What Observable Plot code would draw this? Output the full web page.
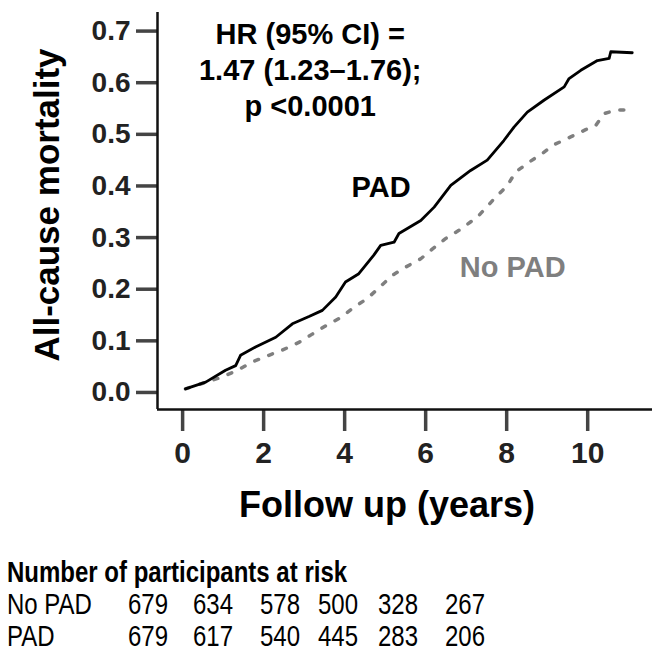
<!DOCTYPE html>
<html><head><meta charset="utf-8">
<script src="https://cdn.jsdelivr.net/npm/d3@7"></script>
<script src="https://cdn.jsdelivr.net/npm/@observablehq/plot@0.6"></script>
<style>
body{margin:0;background:#fff;font-family:"Liberation Sans",Arial,sans-serif;color:#000;}
#risk{padding:16px 0 0 7px;width:656px;}
#risk .row{height:32px;line-height:32px;font-size:24px;white-space:nowrap;transform:scaleY(1.2);display:grid;grid-template-columns:121px 65px 67px 58px 60px 67px 60px;}
#risk .title{font-weight:bold;display:block;}
</style></head><body>
<div id="chart"></div>
<div id="risk"></div>
<script>
// ---- data ----
const padTime = [0.07,0.57,1.06,1.31,1.43,1.80,2.30,2.71,3.12,3.45,3.78,4.02,4.35,4.72,4.89,5.22,5.34,5.88,6.21,6.62,7.11,7.52,7.93,8.18,8.51,8.92,9.42,9.54,9.83,10.24,10.53,10.57,11.10];
const padMort = [0.007,0.020,0.043,0.052,0.072,0.088,0.107,0.133,0.147,0.159,0.185,0.214,0.230,0.266,0.285,0.291,0.308,0.333,0.359,0.401,0.430,0.450,0.488,0.514,0.543,0.566,0.592,0.608,0.624,0.643,0.647,0.660,0.658];
const noPadTime = [0.07,0.98,1.35,1.72,2.13,2.46,2.87,3.20,3.53,3.90,4.23,4.56,5.18,5.51,5.88,6.17,6.49,6.82,7.28,7.69,8.02,8.22,8.55,8.88,9.17,9.58,9.95,10.20,10.40,10.69,11.10];
const noPadMort = [0.007,0.030,0.043,0.059,0.072,0.082,0.097,0.113,0.129,0.145,0.165,0.182,0.227,0.243,0.259,0.278,0.298,0.314,0.340,0.375,0.401,0.427,0.446,0.463,0.480,0.495,0.509,0.517,0.540,0.547,0.547];
const xTicks = [0,2,4,6,8,10];
const yTicks = [0,0.1,0.2,0.3,0.4,0.5,0.6,0.7];
const xDomain = [-0.62, 11.6];
const yDomain = [-0.033, 0.736];
const xTitle = "Follow up (years)";
const yTitle = "All-cause mortality";
const hrText = ["HR (95% CI) =", "1.47 (1.23–1.76);", "p <0.0001"];
const hrPos = [3.15, 0.628];
const seriesLabels = ["PAD", "No PAD"];
const seriesLabelX = [4.9, 8.15];
const seriesLabelY = [0.397, 0.242];
const seriesColors = ["#000000", "#7f7f7f"];
const riskTitle = "Number of participants at risk";
const riskGroups = ["No PAD", "PAD"];
const riskNoPad = [679,634,578,500,328,267];
const riskPad = [679,617,540,445,283,206];

// ---- tables ----
const pad = padTime.map((t,i)=>({t, m: padMort[i]}));
const noPad = noPadTime.map((t,i)=>({t, m: noPadMort[i]}));
const labels = seriesLabels.map((s,i)=>({s, x: seriesLabelX[i], y: seriesLabelY[i], c: seriesColors[i]}));

const chart = Plot.plot({
  width: 663, height: 540,
  marginLeft: 157, marginRight: 11, marginTop: 12, marginBottom: 131,
  style: {fontFamily: "'Liberation Sans', Arial, sans-serif", background: "#fff", overflow: "visible"},
  x: {domain: xDomain},
  y: {domain: yDomain},
  marks: [
    Plot.axisY(yTicks, {tickSize: 21, tickPadding: 6, fontSize: 28, fontWeight: "bold", stroke: "#444", strokeWidth: 3.5, fill: "#222", tickFormat: d => d.toFixed(1), label: null}),
    Plot.axisX(xTicks, {tickSize: 22, tickPadding: 10, fontSize: 30, fontWeight: "bold", stroke: "#444", strokeWidth: 3.5, fill: "#222", label: null}),
    Plot.ruleX([xDomain[0]], {stroke: "#111", strokeWidth: 2.5}),
    Plot.ruleY([yDomain[0]], {stroke: "#111", strokeWidth: 2.5}),
    Plot.line(noPad, {x: "t", y: "m", curve: "linear", stroke: seriesColors[1], strokeWidth: 3.5, strokeDasharray: "4 11"}),
    Plot.line(pad, {x: "t", y: "m", curve: "linear", stroke: seriesColors[0], strokeWidth: 2.8}),
    Plot.text([hrText.join("\n")], {x: () => hrPos[0], y: () => hrPos[1], fontSize: 29, fontWeight: "bold", lineHeight: 1.25, lineAnchor: "middle", fill: "#000"}),
    Plot.text(labels, {x: "x", y: "y", text: "s", fill: "c", fontSize: 29, fontWeight: "bold"}),
    Plot.text([yTitle], {frameAnchor: "left", textAnchor: "middle", lineAnchor: "middle", rotate: -90, dx: -110, dy: -6, fontSize: 35, fontWeight: "bold", fill: "#000"}),
    Plot.text([xTitle], {frameAnchor: "bottom", textAnchor: "middle", lineAnchor: "middle", dx: -18, dy: 96, fontSize: 36, fontWeight: "bold", fill: "#000"})
  ]
});
document.getElementById("chart").appendChild(chart);

// ---- risk table ----
const risk = document.getElementById("risk");
const t = document.createElement("div");
t.className = "row title"; t.textContent = riskTitle; risk.appendChild(t);
[riskNoPad, riskPad].forEach((vals, i) => {
  const r = document.createElement("div"); r.className = "row";
  const l = document.createElement("span"); l.textContent = riskGroups[i]; r.appendChild(l);
  vals.forEach(v => { const s = document.createElement("span"); s.textContent = v; r.appendChild(s); });
  risk.appendChild(r);
});
</script>
</body></html>
